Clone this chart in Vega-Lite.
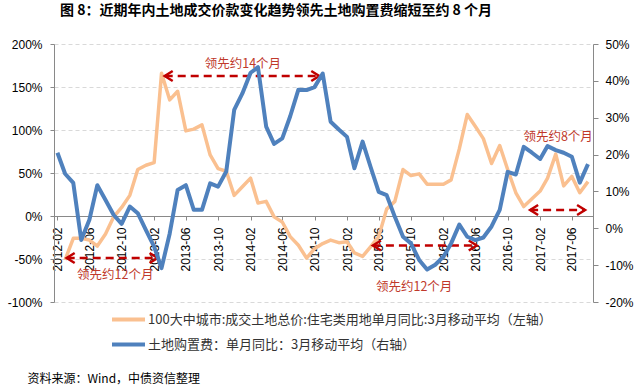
{
  "$schema": "https://vega.github.io/schema/vega-lite/v6.json",
  "width": 539,
  "height": 258,
  "autosize": "none",
  "padding": {"left": 54, "top": 44, "right": 47, "bottom": 85},
  "background": "white",
  "config": {"view": {"stroke": null}, "axisX": {"labelOverlap": false, "labelFlush": false, "labelBound": false}},
  "title": {"text": "图 8：近期年内土地成交价款变化趋势领先土地购置费缩短至约 8 个月", "anchor": "start", "frame": "group", "dx": 6, "offset": 20, "fontSize": 14, "fontWeight": "bold", "font": "Noto Sans CJK SC", "color": "#000000"},
  "datasets": {
    "orange": [
      {"date": "2012-03-01", "value": -51}, {"date": "2012-04-01", "value": -26}, {"date": "2012-05-01", "value": -26},
      {"date": "2012-06-01", "value": -28}, {"date": "2012-07-01", "value": -35}, {"date": "2012-08-01", "value": -21},
      {"date": "2012-09-01", "value": -1}, {"date": "2012-10-01", "value": 10}, {"date": "2012-11-01", "value": 24},
      {"date": "2012-12-01", "value": 54}, {"date": "2013-01-01", "value": 59}, {"date": "2013-02-01", "value": 62},
      {"date": "2013-03-01", "value": 166}, {"date": "2013-04-01", "value": 135}, {"date": "2013-05-01", "value": 145},
      {"date": "2013-06-01", "value": 99}, {"date": "2013-07-01", "value": 101}, {"date": "2013-08-01", "value": 106},
      {"date": "2013-09-01", "value": 71}, {"date": "2013-10-01", "value": 55}, {"date": "2013-11-01", "value": 52},
      {"date": "2013-12-01", "value": 24}, {"date": "2014-01-01", "value": 34}, {"date": "2014-02-01", "value": 44},
      {"date": "2014-03-01", "value": 15}, {"date": "2014-04-01", "value": 17}, {"date": "2014-05-01", "value": -1},
      {"date": "2014-06-01", "value": -7}, {"date": "2014-07-01", "value": -24}, {"date": "2014-08-01", "value": -34},
      {"date": "2014-09-01", "value": -49}, {"date": "2014-10-01", "value": -38}, {"date": "2014-11-01", "value": -32},
      {"date": "2014-12-01", "value": -28}, {"date": "2015-01-01", "value": -31}, {"date": "2015-02-01", "value": -30},
      {"date": "2015-03-01", "value": -43}, {"date": "2015-04-01", "value": -47}, {"date": "2015-05-01", "value": -36},
      {"date": "2015-06-01", "value": -24}, {"date": "2015-07-01", "value": 8}, {"date": "2015-08-01", "value": 17},
      {"date": "2015-09-01", "value": 54}, {"date": "2015-10-01", "value": 47}, {"date": "2015-11-01", "value": 49},
      {"date": "2015-12-01", "value": 37}, {"date": "2016-01-01", "value": 37}, {"date": "2016-02-01", "value": 37},
      {"date": "2016-03-01", "value": 42}, {"date": "2016-04-01", "value": 78}, {"date": "2016-05-01", "value": 118},
      {"date": "2016-06-01", "value": 104}, {"date": "2016-07-01", "value": 90}, {"date": "2016-08-01", "value": 61},
      {"date": "2016-09-01", "value": 82}, {"date": "2016-10-01", "value": 54}, {"date": "2016-11-01", "value": 27},
      {"date": "2016-12-01", "value": 11}, {"date": "2017-01-01", "value": 20}, {"date": "2017-02-01", "value": 29},
      {"date": "2017-03-01", "value": 44}, {"date": "2017-04-01", "value": 72}, {"date": "2017-05-01", "value": 35},
      {"date": "2017-06-01", "value": 46}, {"date": "2017-07-01", "value": 27}, {"date": "2017-08-01", "value": 40}
    ],
    "blue": [
      {"date": "2012-02-01", "value": 20.5}, {"date": "2012-03-01", "value": 14.8}, {"date": "2012-04-01", "value": 12.3},
      {"date": "2012-05-01", "value": -3.2}, {"date": "2012-06-01", "value": 2.3}, {"date": "2012-07-01", "value": 11.7},
      {"date": "2012-08-01", "value": 7.7}, {"date": "2012-09-01", "value": 3.6}, {"date": "2012-10-01", "value": 1.2},
      {"date": "2012-11-01", "value": 5.9}, {"date": "2012-12-01", "value": 4.1}, {"date": "2013-01-01", "value": -0.5},
      {"date": "2013-02-01", "value": -5.0}, {"date": "2013-03-01", "value": -10.8}, {"date": "2013-04-01", "value": -1.4},
      {"date": "2013-05-01", "value": 10.4}, {"date": "2013-06-01", "value": 11.7}, {"date": "2013-07-01", "value": 5.0},
      {"date": "2013-08-01", "value": 5.0}, {"date": "2013-09-01", "value": 12.2}, {"date": "2013-10-01", "value": 11.3},
      {"date": "2013-11-01", "value": 15.4}, {"date": "2013-12-01", "value": 32.1}, {"date": "2014-01-01", "value": 36.6},
      {"date": "2014-02-01", "value": 42.2}, {"date": "2014-03-01", "value": 43.7}, {"date": "2014-04-01", "value": 27.6},
      {"date": "2014-05-01", "value": 22.9}, {"date": "2014-06-01", "value": 24.4}, {"date": "2014-07-01", "value": 30.4},
      {"date": "2014-08-01", "value": 37.6}, {"date": "2014-09-01", "value": 37.5}, {"date": "2014-10-01", "value": 38.3},
      {"date": "2014-11-01", "value": 42.0}, {"date": "2014-12-01", "value": 28.9}, {"date": "2015-01-01", "value": 26.8},
      {"date": "2015-02-01", "value": 24.8}, {"date": "2015-03-01", "value": 16.3}, {"date": "2015-04-01", "value": 23.5},
      {"date": "2015-05-01", "value": 16.7}, {"date": "2015-06-01", "value": 9.9}, {"date": "2015-07-01", "value": 9.0},
      {"date": "2015-08-01", "value": 3.1}, {"date": "2015-09-01", "value": -2.3}, {"date": "2015-10-01", "value": -4.1},
      {"date": "2015-11-01", "value": -8.6}, {"date": "2015-12-01", "value": -11.2}, {"date": "2016-01-01", "value": -9.9},
      {"date": "2016-02-01", "value": -7.7}, {"date": "2016-03-01", "value": -4.1}, {"date": "2016-04-01", "value": 1.0},
      {"date": "2016-05-01", "value": -2.3}, {"date": "2016-06-01", "value": -3.2}, {"date": "2016-07-01", "value": -2.5},
      {"date": "2016-08-01", "value": 0.5}, {"date": "2016-09-01", "value": 5.0}, {"date": "2016-10-01", "value": 15.3},
      {"date": "2016-11-01", "value": 14.6}, {"date": "2016-12-01", "value": 22.1}, {"date": "2017-01-01", "value": 20.5},
      {"date": "2017-02-01", "value": 18.8}, {"date": "2017-03-01", "value": 22.3}, {"date": "2017-04-01", "value": 21.2},
      {"date": "2017-05-01", "value": 20.5}, {"date": "2017-06-01", "value": 19.4}, {"date": "2017-07-01", "value": 12.4},
      {"date": "2017-08-01", "value": 17.4}
    ],
    "arrows": [
      {"date": "2013-03-13", "date2": "2014-10-19", "y": 162.8},
      {"date": "2012-03-07", "date2": "2013-02-14", "y": -48.8},
      {"date": "2015-05-10", "date2": "2016-06-06", "y": -34.3},
      {"date": "2016-12-25", "date2": "2017-07-21", "y": 7}
    ],
    "heads": [
      {"date": "2013-03-13", "y": 162.8, "dir": "left"}, {"date": "2014-10-19", "y": 162.8, "dir": "right"},
      {"date": "2012-03-07", "y": -48.8, "dir": "left"}, {"date": "2013-02-14", "y": -48.8, "dir": "right"},
      {"date": "2015-05-10", "y": -34.3, "dir": "left"}, {"date": "2016-06-06", "y": -34.3, "dir": "right"},
      {"date": "2016-12-25", "y": 7, "dir": "left"}, {"date": "2017-07-21", "y": 7, "dir": "right"}
    ],
    "notes": [
      {"date": "2014-01-03", "y": 176.7, "label": "领先约14个月"},
      {"date": "2012-09-07", "y": -68.6, "label": "领先约12个月"},
      {"date": "2015-10-13", "y": -83, "label": "领先约12个月"},
      {"date": "2017-04-10", "y": 91.9, "label": "领先约8个月"}
    ]
  },
  "encoding": {
    "x": {
      "field": "date", "type": "temporal",
      "scale": {"type": "utc", "domain": [{"year": 2012, "month": 1, "date": 19, "utc": true}, {"year": 2017, "month": 8, "date": 20, "utc": true}]},
      "axis": {
        "values": [
          {"year": 2012, "month": 2, "date": 1, "utc": true}, {"year": 2012, "month": 6, "date": 1, "utc": true}, {"year": 2012, "month": 10, "date": 1, "utc": true},
          {"year": 2013, "month": 2, "date": 1, "utc": true}, {"year": 2013, "month": 6, "date": 1, "utc": true}, {"year": 2013, "month": 10, "date": 1, "utc": true},
          {"year": 2014, "month": 2, "date": 1, "utc": true}, {"year": 2014, "month": 6, "date": 1, "utc": true}, {"year": 2014, "month": 10, "date": 1, "utc": true},
          {"year": 2015, "month": 2, "date": 1, "utc": true}, {"year": 2015, "month": 6, "date": 1, "utc": true}, {"year": 2015, "month": 10, "date": 1, "utc": true},
          {"year": 2016, "month": 2, "date": 1, "utc": true}, {"year": 2016, "month": 6, "date": 1, "utc": true}, {"year": 2016, "month": 10, "date": 1, "utc": true},
          {"year": 2017, "month": 2, "date": 1, "utc": true}, {"year": 2017, "month": 6, "date": 1, "utc": true}
        ],
        "format": "%Y-%m",
        "labelAngle": -90,
        "labelPadding": 7,
        "labelFontSize": 12,
        "labelFont": "Liberation Sans",
        "labelColor": "#000000",
        "labelOverlap": false,
        "labelSeparation": 0,
        "labelFlush": false,
        "offset": -86,
        "domainColor": "#898989",
        "tickColor": "#898989",
        "tickSize": 4,
        "grid": false,
        "title": "资料来源：Wind，中债资信整理",
        "titleX": -27,
        "titleY": 162,
        "titleAngle": 0,
        "titleAlign": "left",
        "titleBaseline": "middle",
        "titleFont": "Noto Sans CJK SC",
        "titleFontSize": 12,
        "titleFontWeight": "normal",
        "titleColor": "#000000"
      }
    }
  },
  "layer": [
    {
      "layer": [
        {
          "data": {"name": "orange"},
          "mark": {"type": "line", "strokeWidth": 3.5, "strokeJoin": "round"},
          "encoding": {
            "y": {
              "field": "value", "type": "quantitative",
              "scale": {"domain": [-100, 200]},
              "axis": {
                "orient": "left",
                "values": [-100, -50, 0, 50, 100, 150, 200],
                "labelExpr": "datum.value + '%'",
                "grid": true,
                "gridColor": "#D9D9D9",
                "gridDash": [4, 3],
                "domainColor": "#898989",
                "tickColor": "#898989",
                "tickSize": 4,
                "labelPadding": 8,
                "labelFontSize": 12,
                "labelFont": "Liberation Sans",
                "labelColor": "#000000",
                "title": null
              }
            },
            "color": {
              "datum": "100大中城市:成交土地总价:住宅类用地单月同比:3月移动平均（左轴）",
              "type": "nominal",
              "scale": {
                "domain": ["100大中城市:成交土地总价:住宅类用地单月同比:3月移动平均（左轴）", "土地购置费：单月同比：3月移动平均（右轴）"],
                "range": ["#FAC090", "#4F81BD"]
              },
              "legend": {
                "orient": "none",
                "legendX": 78,
                "legendY": 268,
                "direction": "vertical",
                "title": null,
                "symbolType": "M-5,0H1",
                "symbolSize": 121,
                "symbolStrokeWidth": 4,
                "labelFont": "Noto Sans CJK SC",
                "labelFontSize": 13,
                "labelColor": "#333333",
                "labelLimit": 600,
                "labelOffset": 1,
                "rowPadding": 8,
                "padding": 0
              }
            }
          }
        },
        {
          "data": {"name": "arrows"},
          "mark": {"type": "rule", "color": "#C00000", "strokeWidth": 2.5, "strokeDash": [8, 5]},
          "encoding": {
            "x2": {"field": "date2"},
            "y": {"field": "y", "type": "quantitative"}
          }
        },
        {
          "data": {"name": "heads"},
          "mark": {"type": "point", "size": 100, "filled": false, "color": "#C00000", "strokeWidth": 2.5, "opacity": 1},
          "encoding": {
            "y": {"field": "y", "type": "quantitative"},
            "shape": {"field": "dir", "type": "nominal", "scale": {"domain": ["left", "right"], "range": ["M1.6,-1L0,0L1.6,1", "M-1.6,-1L0,0L-1.6,1"]}, "legend": null}
          }
        },
        {
          "data": {"name": "notes"},
          "mark": {"type": "text", "font": "Noto Sans CJK SC", "fontSize": 12.5, "color": "#C0392B", "align": "center", "baseline": "middle"},
          "encoding": {
            "y": {"field": "y", "type": "quantitative"},
            "text": {"field": "label"}
          }
        }
      ]
    },
    {
      "data": {"name": "blue"},
      "mark": {"type": "line", "strokeWidth": 4, "strokeJoin": "round"},
      "encoding": {
        "y": {
          "field": "value", "type": "quantitative",
          "scale": {"domain": [-20, 50]},
          "axis": {
            "orient": "right",
            "values": [-20, -10, 0, 10, 20, 30, 40, 50],
            "labelExpr": "datum.value + '%'",
            "grid": false,
            "domainColor": "#898989",
            "tickColor": "#898989",
            "tickSize": 5,
            "labelPadding": 7,
            "labelFontSize": 12,
            "labelFont": "Liberation Sans",
            "labelColor": "#000000",
            "title": null
          }
        },
        "color": {"datum": "土地购置费：单月同比：3月移动平均（右轴）", "type": "nominal"}
      }
    }
  ],
  "resolve": {"scale": {"y": "independent"}}
}
